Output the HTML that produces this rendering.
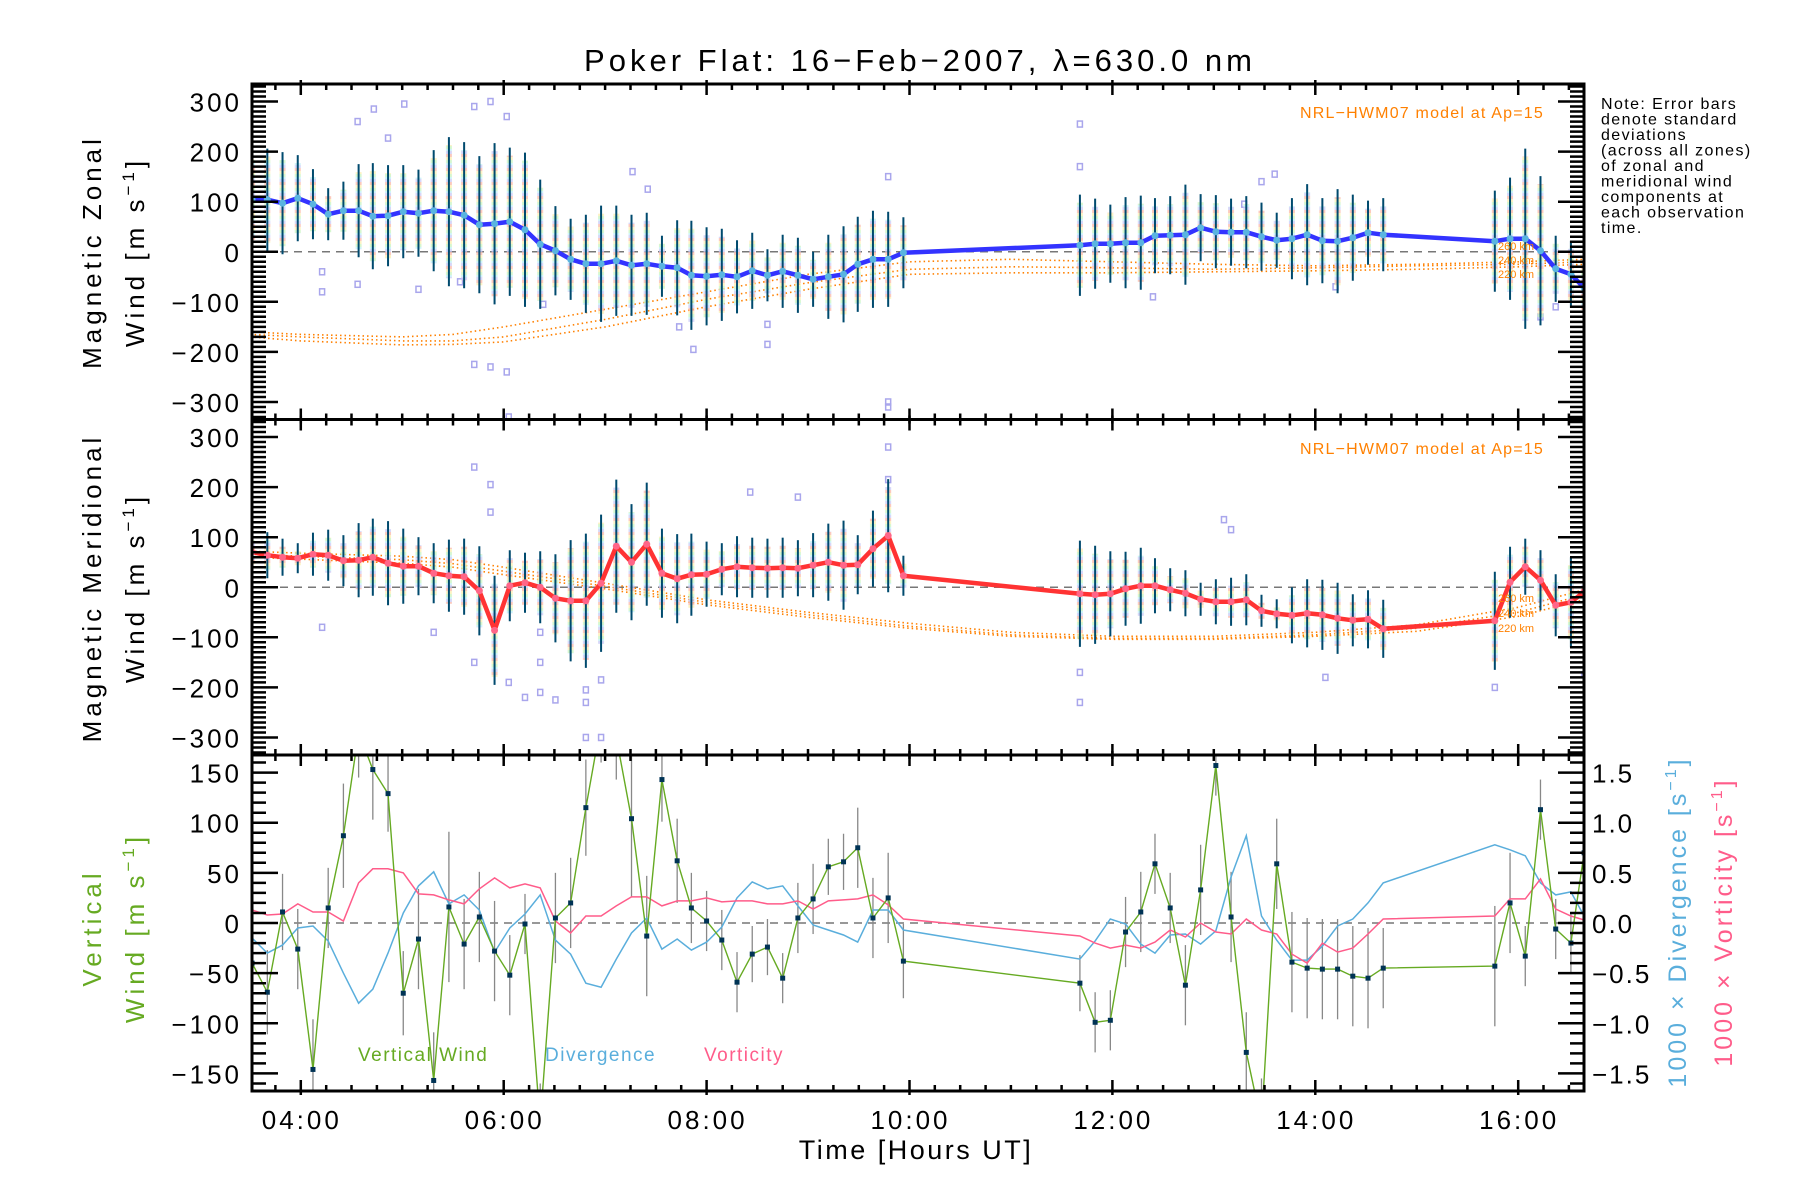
<!DOCTYPE html>
<html><head><meta charset="utf-8"><style>
html,body{margin:0;padding:0;background:#fff;}
svg{display:block;font-family:"Liberation Sans",sans-serif;}
</style></head><body>
<svg id="chart" width="1800" height="1200" viewBox="0 0 1800 1200" xmlns="http://www.w3.org/2000/svg">
<defs>
<pattern id="zones" width="6" height="14" patternUnits="userSpaceOnUse">
<rect x="0" y="0" width="6" height="3" fill="#f9b8a8"/>
<rect x="0" y="3" width="6" height="3" fill="#fbeeb0"/>
<rect x="0" y="6" width="6" height="3" fill="#c8f4c0"/>
<rect x="0" y="9" width="6" height="2" fill="#bfeef5"/>
<rect x="0" y="11" width="6" height="3" fill="#c9c9f5"/>
</pattern>
<clipPath id="c0"><rect x="252" y="84" width="1332" height="335.5"/></clipPath>
<clipPath id="c1"><rect x="252" y="419.5" width="1332" height="335.5"/></clipPath>
<clipPath id="c2"><rect x="252" y="755" width="1332" height="336"/></clipPath>
</defs>
<text x="918" y="71" font-size="31" text-anchor="middle" textLength="668" lengthAdjust="spacing">Poker Flat: 16−Feb−2007, λ=630.0 nm</text>
<g id="plots"></g>
<g font-size="16" letter-spacing="1.4" fill="#000">
<text x="1601" y="109">Note: Error bars</text>
<text x="1601" y="124.5">denote standard</text>
<text x="1601" y="140">deviations</text>
<text x="1601" y="155.5">(across all zones)</text>
<text x="1601" y="171">of zonal and</text>
<text x="1601" y="186.5">meridional wind</text>
<text x="1601" y="202">components at</text>
<text x="1601" y="217.5">each observation</text>
<text x="1601" y="233">time.</text>
</g>
<text x="1544" y="118" font-size="16" letter-spacing="1.2" fill="#ff8000" text-anchor="end">NRL−HWM07 model at Ap=15</text>
<text x="1544" y="454" font-size="16" letter-spacing="1.2" fill="#ff8000" text-anchor="end">NRL−HWM07 model at Ap=15</text>
<g font-size="11" fill="#ff8000">
<text x="1498" y="250">260 km</text><text x="1498" y="264">240 km</text><text x="1498" y="278">220 km</text>
</g>
<g font-size="11" fill="#ff8000">
<text x="1498" y="602">260 km</text><text x="1498" y="617">240 km</text><text x="1498" y="632">220 km</text>
</g>
<g font-size="26" letter-spacing="4" text-anchor="middle">
<text transform="translate(101,252) rotate(-90)">Magnetic Zonal</text>
<text transform="translate(144,252) rotate(-90)">Wind [m s<tspan dy="-10" font-size="17">−1</tspan><tspan dy="10">]</tspan></text>
</g>
<g font-size="26" letter-spacing="4" text-anchor="middle">
<text transform="translate(101,588) rotate(-90)">Magnetic Meridional</text>
<text transform="translate(144,588) rotate(-90)">Wind [m s<tspan dy="-10" font-size="17">−1</tspan><tspan dy="10">]</tspan></text>
</g>
<g font-size="26" letter-spacing="4" text-anchor="middle" fill="#66aa22">
<text transform="translate(101,928) rotate(-90)">Vertical</text>
<text transform="translate(144,928) rotate(-90)">Wind [m s<tspan dy="-10" font-size="17">−1</tspan><tspan dy="10">]</tspan></text>
</g>
<text transform="translate(1686,922) rotate(-90)" font-size="25" letter-spacing="3" text-anchor="middle" fill="#5aaedc">1000 × Divergence [s<tspan dy="-10" font-size="16">−1</tspan><tspan dy="10">]</tspan></text>
<text transform="translate(1732,922) rotate(-90)" font-size="25" letter-spacing="3" text-anchor="middle" fill="#ff5c8a">1000 × Vorticity [s<tspan dy="-10" font-size="16">−1</tspan><tspan dy="10">]</tspan></text>
<text x="358" y="1061" font-size="19" letter-spacing="1.5" fill="#66aa22">Vertical Wind</text>
<text x="545" y="1061" font-size="19" letter-spacing="1.5" fill="#5aaedc">Divergence</text>
<text x="704" y="1061" font-size="19" letter-spacing="1.5" fill="#ff5c8a">Vorticity</text>
<text x="916" y="1159" font-size="27" letter-spacing="2.5" text-anchor="middle">Time [Hours UT]</text>
</svg>
<script>
// ---- data ----
const times = [3.52,3.67,3.82,3.97,4.12,4.27,4.42,4.57,4.71,4.86,5.01,5.16,5.31,5.46,5.61,5.76,5.91,6.06,6.21,6.36,6.51,6.66,6.81,6.96,7.11,7.26,7.41,7.56,7.71,7.85,8.00,8.15,8.30,8.45,8.60,8.75,8.90,9.05,9.20,9.35,9.49,9.64,9.79,9.94,
 11.68,11.83,11.98,12.13,12.28,12.42,12.57,12.72,12.87,13.02,13.17,13.32,13.47,13.62,13.77,13.92,14.07,14.22,14.37,14.52,14.67,
 15.77,15.92,16.07,16.22,16.37,16.52,16.65];
const zonal = [104,104,97,107,95,75,82,82,71,72,80,77,82,80,73,54,56,60,44,15,2,-15,-24,-24,-18,-27,-24,-29,-32,-47,-49,-46,-50,-38,-47,-39,-47,-55,-50,-45,-25,-15,-15,-2,
 13,16,16,18,18,32,33,34,48,40,39,39,30,23,26,34,22,21,28,38,34,
 21,26,26,2,-34,-45,-72];
const zonalErr = [96,102,102,86,70,52,58,93,106,101,93,87,121,149,146,137,161,148,154,129,89,81,98,116,110,101,102,61,95,109,98,92,73,76,52,73,75,55,84,96,95,97,95,71,
 101,90,78,91,94,75,78,100,67,73,67,72,68,55,81,101,85,104,86,64,73,
 101,122,180,149,66,67,60];
const merid = [70,64,60,58,66,64,53,54,60,48,42,42,28,23,21,-7,-86,3,9,0,-22,-27,-27,8,82,50,86,28,17,25,26,36,41,39,38,39,38,44,50,44,45,77,103,23,
 -13,-15,-13,-3,3,3,-5,-12,-24,-29,-29,-25,-47,-53,-56,-52,-55,-62,-66,-64,-83,
 -67,10,41,14,-36,-30,-9];
const meridErr = [40,46,37,30,43,51,51,74,77,84,75,58,60,72,76,89,109,71,60,72,88,121,134,137,133,116,123,89,89,82,65,52,61,60,59,60,56,64,77,89,59,76,113,40,
 106,98,85,74,76,55,43,46,33,45,48,51,32,29,56,68,70,71,52,58,58,
 98,71,56,60,62,90,30];
const vert = [-40,-69,11,-26,-146,15,87,190,153,129,-70,-16,-157,16,-21,6,-28,-52,-1,-200,5,20,115,200,185,104,-13,143,62,15,2,-17,-59,-31,-24,-55,5,24,56,61,75,5,25,-38,
 -60,-99,-97,-9,11,59,15,-62,33,157,6,-129,-200,59,-39,-45,-46,-46,-53,-55,-45,
 -43,20,-33,113,-6,-20,70];
const vertErr = [35,42,38,40,50,40,52,45,50,38,42,50,48,75,45,45,50,40,30,40,45,45,48,40,42,78,60,42,42,35,30,30,30,28,28,25,35,35,28,28,40,40,45,37,
 28,30,30,35,40,30,35,40,45,30,45,40,45,45,50,50,50,50,50,50,40,
 60,50,30,30,30,30,30];
const diverg = [-0.15,-0.3,-0.22,-0.05,-0.03,-0.18,-0.5,-0.8,-0.66,-0.3,0.1,0.37,0.51,0.19,0.28,0.13,-0.29,-0.05,0.09,0.28,-0.17,-0.31,-0.6,-0.64,-0.36,-0.1,0.05,-0.26,-0.16,-0.27,-0.19,-0.04,0.25,0.41,0.34,0.37,0.17,-0.02,-0.07,-0.12,-0.19,0.13,0.13,-0.07,
 -0.36,-0.18,0.04,-0.01,-0.21,-0.3,-0.12,-0.11,-0.21,-0.08,0.46,0.87,0.07,-0.17,-0.37,-0.37,-0.23,-0.03,0.04,0.2,0.4,
 0.78,0.73,0.67,0.4,0.28,0.31,0.07];
const vort = [0.13,0.08,0.09,0.19,0.11,0.11,0.02,0.4,0.54,0.54,0.5,0.29,0.28,0.23,0.19,0.34,0.45,0.35,0.39,0.35,0.02,-0.1,0.07,0.07,0.17,0.26,0.26,0.17,0.22,0.22,0.25,0.21,0.22,0.22,0.19,0.19,0.22,0.14,0.22,0.23,0.24,0.28,0.18,0.04,
 -0.13,-0.2,-0.25,-0.22,-0.25,-0.19,-0.07,-0.14,0,-0.09,-0.11,0.04,-0.07,-0.11,-0.31,-0.4,-0.2,-0.29,-0.25,-0.11,0.04,
 0.07,0.24,0.24,0.44,0.14,0.07,0.03];
const zonalOutT = [4.56,4.72,5.02,4.86,5.71,5.87,6.03,5.57,5.87,6.03,5.71,6.05,4.56,4.21,4.21,5.16,6.39,7.73,7.87,8.6,8.6,9.79,9.79,7.27,7.42,9.79,11.68,11.68,13.47,13.6,13.3,12.4,14.2,16.22,16.37];
const zonalOutV = [260,285,295,227,290,300,270,-60,-230,-240,-225,-330,-65,-80,-40,-75,-105,-150,-195,-145,-185,-300,-310,160,125,150,255,170,140,155,95,-90,-70,-130,-110];
const meridOutT = [5.71,5.87,5.87,6.36,6.36,6.36,6.21,6.51,6.81,6.81,6.96,6.96,6.81,9.79,9.79,8.43,8.9,6.05,5.71,11.68,11.68,13.1,13.17,14.1,15.77,16.65,4.21,5.31];
const meridOutV = [240,205,150,-90,-150,-210,-220,-225,-205,-230,-185,-300,-300,280,215,190,180,-190,-150,-230,-170,135,115,-180,-200,-175,-80,-90];
const modelTimes = [3.5,4,5,5.5,6,7,8,9,10,11,12,13,14,15,16,16.65];
const zonalModel260 = [-160,-165,-170,-165,-150,-115,-80,-45,-20,-15,-20,-25,-28,-25,-20,-15];
const zonalModel240 = [-165,-170,-178,-178,-170,-135,-95,-62,-35,-30,-32,-35,-32,-28,-25,-20];
const zonalModel220 = [-170,-178,-186,-185,-180,-150,-110,-75,-45,-42,-42,-40,-38,-35,-30,-25];
const meridModel260 = [72,68,62,55,40,8,-25,-50,-72,-90,-98,-98,-90,-75,-40,-5];
const meridModel240 = [66,62,55,47,32,2,-30,-55,-78,-95,-102,-102,-95,-82,-50,-15];
const meridModel220 = [60,56,48,40,25,-3,-35,-60,-82,-98,-104,-104,-98,-88,-58,-25];
const xTickLabels = ["04:00","06:00","08:00","10:00","12:00","14:00","16:00"];
const xTickHours = [4,6,8,10,12,14,16];
const leftTicksUV = [300,200,100,0,-100,-200,-300];
const leftTicksW = [150,100,50,0,-50,-100,-150];
const rightTicksD = [1.5,1.0,0.5,0.0,-0.5,-1.0,-1.5];

// ---- axes ----
const NS="http://www.w3.org/2000/svg";
const L=252,R=1584,T=[84,419.5,755],H=[335.5,335.5,336];
const HALF=[335,335,167.5];
const T0=3.519,T1=16.649;
function xs(t){return L+(t-T0)/(T1-T0)*(R-L);}
function ys(p,v){return T[p]+H[p]/2 - v/HALF[p]*H[p]/2;}
function yd(v){return ys(2,v*100);}
const root=document.getElementById('plots');
function mk(tag,attrs,parent){const e=document.createElementNS(NS,tag);for(const k in attrs)e.setAttribute(k,attrs[k]);(parent||root).appendChild(e);return e;}
function fmt(v){return v<0?'−'+Math.abs(v):String(v);}

const panelNames=['zonal-panel','meridional-panel','vertical-panel'];
const panels=[];
for(let p=0;p<3;p++){
  const g=mk('g',{});
  
  
  panels.push(g);
}

function polyline(g,p,ts,vs,yfn,style){
  const pts=ts.map((t,i)=>xs(t).toFixed(1)+','+yfn(vs[i]).toFixed(1)).join(' ');
  return mk('polyline',Object.assign({points:pts,fill:'none'},style),g);
}

for(let p=0;p<3;p++){
  const zl=mk('line',{x1:L,x2:R,y1:ys(p,0),y2:ys(p,0),stroke:'#777','stroke-width':1.5,'stroke-dasharray':'8,6'},panels[p]);
  
  
}

const hv=[[zonal,zonalErr,[zonalModel260,zonalModel240,zonalModel220],'#3333ff','#5ab4e0','zonal',zonalOutT,zonalOutV],
          [merid,meridErr,[meridModel260,meridModel240,meridModel220],'#ff3333','#ff6688','meridional',meridOutT,meridOutV]];
for(let p=0;p<2;p++){
  const [vals,errs,models,lc,dc,nm,oT,oV]=hv[p];
  const g=mk('g',{'clip-path':'url(#c'+p+')'},panels[p]);
  oT.forEach((t,i)=>{
    const s=mk('rect',{x:xs(t)-2.5,y:ys(p,oV[i])-3,width:5,height:6,fill:'none',stroke:'#a9a6ec','stroke-width':1.5},g);
    
    
  });
  models.forEach((m,k)=>{
    const ml=polyline(g,p,modelTimes,m,v=>ys(p,v),{stroke:'#ff8000','stroke-width':1.6,'stroke-dasharray':'1.5,3'});
    
    
  });
  times.forEach((t,i)=>{
    const x=xs(t),y1=ys(p,vals[i]+errs[i]),y2=ys(p,vals[i]-errs[i]);
    const band=mk('rect',{x:x-3,y:y1+8,width:6,height:Math.max(0,y2-y1-16),fill:'url(#zones)',opacity:0.75},g);
    
    
    const eb=mk('line',{x1:x,x2:x,y1:y1,y2:y2,stroke:'#004a6e','stroke-width':2},g);
    
    
  });
  const ln=polyline(g,p,times,vals,v=>ys(p,v),{stroke:lc,'stroke-width':4.5,'stroke-linejoin':'round'});
  
  
  times.forEach((t,i)=>{
    const c=mk('circle',{cx:xs(t),cy:ys(p,vals[i]),r:3.5,fill:dc},g);
    
    
  });
}

{
  const g=mk('g',{'clip-path':'url(#c2)'},panels[2]);
  times.forEach((t,i)=>{
    const x=xs(t);
    const eb=mk('line',{x1:x,x2:x,y1:ys(2,vert[i]+vertErr[i]),y2:ys(2,vert[i]-vertErr[i]),stroke:'#888','stroke-width':1.3},g);
    
    
  });
  const dl=polyline(g,2,times,diverg,yd,{stroke:'#5aaedc','stroke-width':1.5});
  
  
  const vl=polyline(g,2,times,vort,yd,{stroke:'#ff5c8a','stroke-width':1.5});
  
  
  const wl=polyline(g,2,times,vert,v=>ys(2,v),{stroke:'#66aa22','stroke-width':1.4});
  
  
  times.forEach((t,i)=>{
    const m=mk('rect',{x:xs(t)-2.5,y:ys(2,vert[i])-2.5,width:5,height:5,fill:'#003355'},g);
    
    
  });
}

for(let p=0;p<3;p++){
  const g=mk('g',{},panels[p]);
  
  
  let d='';
  for(let q=Math.ceil(T0*4);q<=Math.floor(T1*4);q++){
    const h=q/4,x=xs(h).toFixed(1),major=(q%8===0);
    const len=major?11:6;
    d+=`M${x},${T[p]}v${len}M${x},${T[p]+H[p]}v${-len}`;
    if(major){d+=`M${x},${T[p]}v-4M${x},${T[p]+H[p]}v4`;}
  }
  if(p<2){
    for(let v=-330;v<=330;v+=10){
      const y=ys(p,v).toFixed(1),major=(v%100===0);
      const len=major?26:14;
      d+=`M${L},${y}h${len}M${R},${y}h${-len}`;
    }
  } else {
    for(let v=-160;v<=160;v+=10){
      const y=ys(2,v).toFixed(1),major=(v%50===0);
      d+=`M${L},${y}h${major?26:14}`;
    }
    for(let v=-16;v<=16;v+=1){
      const y=yd(v/10).toFixed(1),major=(v%5===0);
      d+=`M${R},${y}h${major?-26:-14}`;
    }
  }
  mk('path',{d:d,stroke:'#000','stroke-width':2.5,fill:'none'},g);
  mk('rect',{x:L,y:T[p],width:R-L,height:H[p],fill:'none',stroke:'#000','stroke-width':3},g);
  const ticks=p<2?leftTicksUV:leftTicksW;
  ticks.forEach(v=>{
    const tx=mk('text',{x:242,y:ys(p,v)+10,'font-size':26,'letter-spacing':3,'text-anchor':'end'},g);
    tx.textContent=fmt(v);
    
    
  });
  if(p===2){
    rightTicksD.forEach(v=>{
      const tx=mk('text',{x:1592,y:yd(v)+10,'font-size':26,'letter-spacing':2},g);
      tx.textContent=(v<0?'−':'')+Math.abs(v).toFixed(1);
      
      
    });
  }
}
xTickHours.forEach((h,i)=>{
  const tx=mk('text',{x:xs(h)+1,y:1129,'font-size':26,'letter-spacing':3,'text-anchor':'middle'});
  tx.textContent=xTickLabels[i];
  
  
});
</script>
</body></html>
